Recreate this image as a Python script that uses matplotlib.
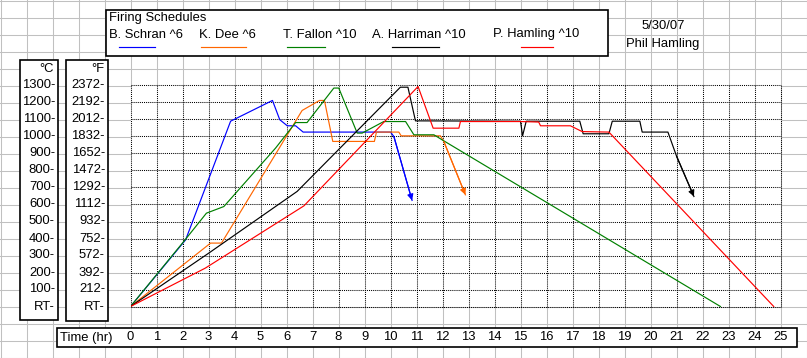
import matplotlib
matplotlib.use('Agg')
import matplotlib.pyplot as plt
from matplotlib.patches import Rectangle
from matplotlib.transforms import blended_transform_factory as blend

plt.rcParams['font.family'] = ['Liberation Sans', 'DejaVu Sans']
FS = 9.4

# figure is a spreadsheet screenshot, 807 x 358 px
W, H = 807, 358
COL, ROW = 26, 17

# axis labels (text cells)
hours = list(range(26))
c_labels = ['1300', '1200', '1100', '1000', '900', '800', '700', '600',
            '500', '400', '300', '200', '100', 'RT']
f_labels = ['2372', '2192', '2012', '1832', '1652', '1472', '1292', '1112',
            '932', '752', '572', '392', '212', 'RT']
c_levels = [1300, 1200, 1100, 1000, 900, 800, 700, 600, 500, 400, 300, 200, 100, 0]

names = ['B. Schran ^6', 'K. Dee ^6', 'T. Fallon ^10', 'A. Harriman ^10', 'P. Hamling ^10']
colors = ['#0000ff', '#ff6600', '#008000', '#000000', '#ff0000']

# firing schedules: time (hr), temp (deg C above RT)
schran_t = [0, 2.12, 3.85, 5.46, 5.74, 6.03, 6.35, 6.64, 10.0, 10.13, 10.83]
schran_T = [0, 392, 1090, 1212, 1099, 1063, 1063, 1026, 1026, 1000, 624]

dee_t = [0, 3.08, 3.5, 6.6, 7.27, 7.46, 7.78, 9.38, 9.46, 10.32, 10.41, 11.92, 12.05, 12.88]
dee_T = [0, 373, 373, 1153, 1212, 1212, 971, 971, 1026, 1026, 1004, 1004, 971, 657]

fallon_t = [0, 2.12, 2.92, 3.59, 5.58, 6.35, 6.79, 7.82, 8.01, 8.72, 8.91, 9.74,
            10.58, 10.9, 11.67, 11.99, 22.69]
fallon_T = [0, 396, 549, 588, 932, 1082, 1082, 1285, 1285, 1020, 1020, 1088,
            1088, 1010, 1010, 980, 0]

harriman_t = [0, 3.01, 6.41, 10.38, 10.67, 10.96, 15.0, 15.08, 15.22, 17.28, 17.41,
              18.4, 18.53, 19.59, 19.68, 20.67, 21.0, 21.67]
harriman_T = [0, 314, 677, 1290, 1290, 1092, 1090, 1004, 1090, 1090, 1016,
              1016, 1090, 1090, 1026, 1026, 885, 647]

hamling_t = [0, 2.88, 6.67, 11.06, 11.64, 12.63, 12.69, 15.0, 15.7, 15.77, 16.92,
             17.37, 18.4, 24.74]
hamling_T = [0, 226, 592, 1294, 1049, 1049, 1088, 1088, 1085, 1063, 1063,
             1029, 1026, 0]

series = [(schran_t, schran_T, True), (dee_t, dee_T, True), (fallon_t, fallon_T, False),
          (harriman_t, harriman_T, True), (hamling_t, hamling_T, False)]

fig = plt.figure(figsize=(W / 100, H / 100), dpi=100)
fig.patch.set_facecolor('white')

# background sheet in pixel coords
bg = fig.add_axes([0, 0, 1, 1])
bg.set_xlim(0, W)
bg.set_ylim(H, 0)
bg.axis('off')
for x in range(0, W + 1, COL):
    bg.plot([x + 0.5, x + 0.5], [0, H], color='#c0c0c0', lw=0.75, zorder=0)
for y in range(0, H + 1, ROW):
    bg.plot([0, W], [y + 0.5, y + 0.5], color='#c0c0c0', lw=0.75, zorder=0)


def box(x0, y0, x1, y1):
    bg.add_patch(Rectangle((x0, y0), x1 - x0, y1 - y0, facecolor='white',
                           edgecolor='black', lw=1.2, zorder=2))


# plot area
ax = fig.add_axes([130.5 / W, (H - 306.5) / H, 650 / W, 221 / H])
ax.set_xlim(0, 25)
ax.set_ylim(0, 1300)
ax.set_xticks([])
ax.set_yticks([])
for s in ax.spines.values():
    s.set_visible(False)
ax.vlines(hours, 0, 1300, colors='black', lw=0.75, linestyles=(0, (1, 1)), clip_on=False)
ax.hlines(c_levels, 0, 25, colors='black', lw=0.75, linestyles=(0, (1, 1)), clip_on=False)

for (t, T, arrow), c in zip(series, colors):
    ax.plot(t, T, color=c, lw=0.85)
    if arrow:
        ax.annotate('', xy=(t[-1], T[-1]), xytext=(t[-2], T[-2]),
                    arrowprops=dict(arrowstyle='-|>', color=c, lw=0.85,
                                    mutation_scale=9, shrinkA=0, shrinkB=0))

# legend box
box(106, 9.5, 608, 56)
bg.text(109, 18.5, 'Firing Schedules', fontsize=FS, va='center', ha='left', zorder=3)
name_x = [109, 199, 283, 372, 493]
line_x = [(119, 155), (201, 246), (287, 325), (392, 439), (521, 553)]
for n, nx, (a, b), c in zip(names, name_x, line_x, colors):
    bg.text(nx, 34.5, n, fontsize=FS, va='center', ha='left', zorder=3)
    bg.plot([a, b], [46.5, 46.5], color=c, lw=0.85, zorder=3)

# author / date
bg.text(663, 26, '5/30/07', fontsize=FS, va='center', ha='center', zorder=3)
bg.text(663, 43.5, 'Phil Hamling', fontsize=FS, va='center', ha='center', zorder=3)

# temperature scale boxes
box(19.5, 60, 57.5, 320)
box(65.5, 60, 107.5, 321)
bg.text(54, 68.5, '°C', fontsize=FS, va='center', ha='right', zorder=3)
bg.text(104, 68.5, '°F', fontsize=FS, va='center', ha='right', zorder=3)
ty = blend(bg.transData, ax.transData)
for lc, lf, lv in zip(c_labels, f_labels, c_levels):
    bg.text(55, lv, lc + '-', fontsize=FS, va='center', ha='right', transform=ty, zorder=3)
    bg.text(105, lv, lf + '-', fontsize=FS, va='center', ha='right', transform=ty, zorder=3)

# time axis box
box(57, 328, 796.5, 346.5)
bg.text(59.5, 337.5, 'Time (hr)', fontsize=FS, va='center', ha='left', zorder=3)
tx = blend(ax.transData, bg.transData)
for h in hours:
    bg.text(h, 337.5, str(h), fontsize=FS, va='center', ha='center', transform=tx, zorder=3)

fig.savefig('out.png', dpi=100)
